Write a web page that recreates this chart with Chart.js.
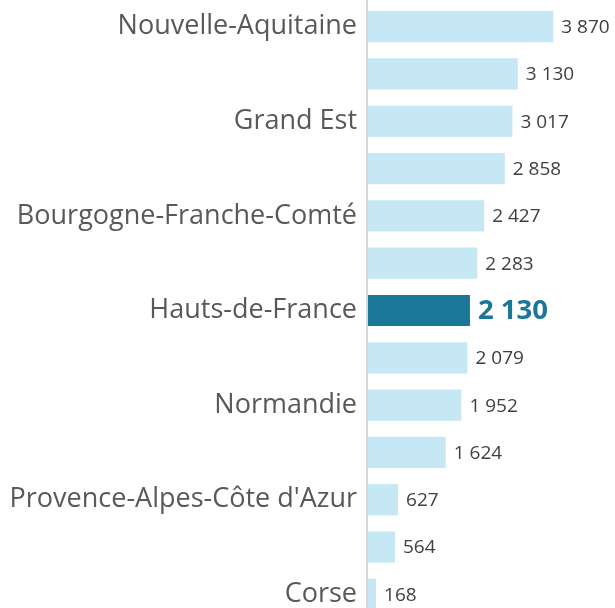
<!DOCTYPE html>
<html>
<head>
<meta charset="utf-8">
<script src="https://cdn.jsdelivr.net/npm/chart.js@4/dist/chart.umd.min.js"></script>
<style>
  html, body { margin: 0; padding: 0; background: #ffffff; overflow: hidden; }
  #wrap { width: 615px; height: 619px; position: relative; }
</style>
</head>
<body>
<div id="wrap"><canvas id="c"></canvas></div>
<script>
const categories = [
  "Nouvelle-Aquitaine", "Occitanie", "Grand Est", "Auvergne-Rhône-Alpes",
  "Bourgogne-Franche-Comté", "Centre-Val de Loire", "Hauts-de-France", "Bretagne",
  "Normandie", "Pays de la Loire", "Provence-Alpes-Côte d'Azur", "Île-de-France", "Corse"
];
const values = [3870, 3130, 3017, 2858, 2427, 2283, 2130, 2079, 1952, 1624, 627, 564, 168];
const highlighted = "Hauts-de-France";
const shownLabelStep = 2;

const LIGHT = '#c6e8f4';
const DARK = '#1b7799';

function fmt(v) {
  return String(v).replace(/\B(?=(\d{3})+(?!\d))/g, ' ');
}

const valueLabels = {
  id: 'valueLabels',
  afterDatasetsDraw(chart) {
    const ctx = chart.ctx;
    const meta = chart.getDatasetMeta(0);
    ctx.save();
    ctx.textBaseline = 'middle';
    ctx.textAlign = 'left';
    meta.data.forEach((bar, i) => {
      const hl = categories[i] === highlighted;
      ctx.font = hl ? 'bold 27.5px "Open Sans"' : '19px "Open Sans"';
      ctx.fillStyle = hl ? DARK : '#404040';
      ctx.fillText(fmt(values[i]), bar.x + 8, bar.y + 1);
    });
    ctx.restore();
  }
};

const axisLine = {
  id: 'axisLine',
  afterDraw(chart) {
    const ctx = chart.ctx;
    const x = chart.chartArea.left - 1;
    ctx.save();
    ctx.strokeStyle = '#d9d9d9';
    ctx.lineWidth = 2;
    ctx.beginPath();
    ctx.moveTo(x, 0);
    ctx.lineTo(x, chart.height);
    ctx.stroke();
    ctx.restore();
  }
};

new Chart(document.getElementById('c'), {
  type: 'bar',
  data: {
    labels: categories,
    datasets: [{
      data: values,
      backgroundColor: categories.map(c => c === highlighted ? DARK : LIGHT),
      borderWidth: 0,
      categoryPercentage: 1,
      barPercentage: 0.66
    }]
  },
  options: {
    indexAxis: 'y',
    responsive: true,
    maintainAspectRatio: false,
    animation: false,
    layout: { padding: { top: 3, bottom: 1, left: 0, right: 0 } },
    plugins: { legend: { display: false }, tooltip: { enabled: false } },
    scales: {
      x: { display: false, min: 0, max: 5160 },
      y: {
        afterFit(scale) {
          scale.width = 368;
          scale.paddingTop = 0;
          scale.paddingBottom = 0;
        },
        grid: { display: false, drawTicks: false },
        border: { display: false },
        ticks: {
          autoSkip: false,
          padding: 11,
          color: '#595959',
          font: { family: '"Open Sans"', size: 27 },
          callback(value, index) {
            return index % shownLabelStep === 0 ? categories[index] : '';
          }
        }
      }
    }
  },
  plugins: [valueLabels, axisLine]
});
</script>
</body>
</html>
